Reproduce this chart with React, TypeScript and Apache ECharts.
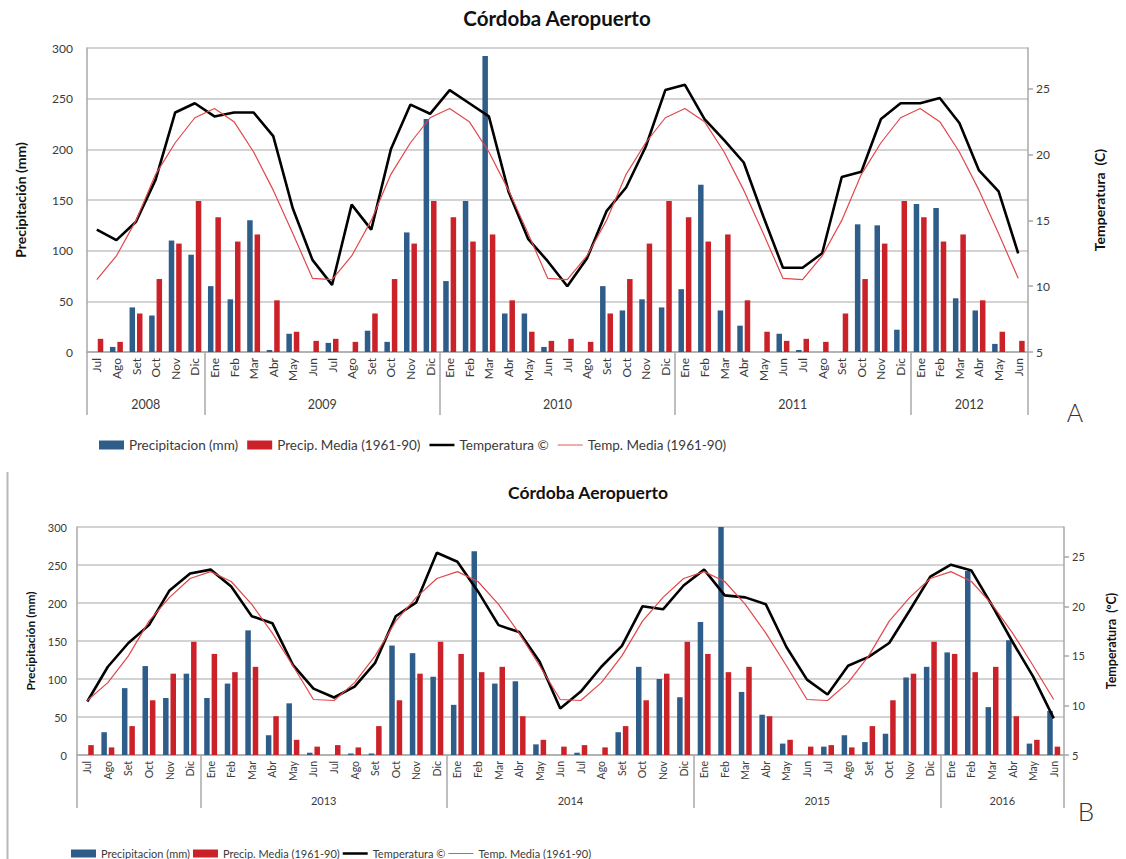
import React, { useEffect, useRef } from "react";
import * as echarts from "echarts";

// ---------- DATA ----------
const monthCycle = ["Jul", "Ago", "Set", "Oct", "Nov", "Dic", "Ene", "Feb", "Mar", "Abr", "May", "Jun"];

// Climatological normals 1961-90, by month (Jul..Jun)
const precipMediaNormal = [13, 10, 38, 72, 107, 149, 133, 109, 116, 51, 20, 11];
const tempMediaNormal = [10.5, 12.3, 15.0, 18.5, 20.9, 22.8, 23.5, 22.5, 20.2, 17.3, 14.0, 10.6];

// Panel A: Jul 2008 - Jun 2012
const yearLabelsA = ["2008", "2009", "2010", "2011", "2012"];
const yearSpansA = [6, 12, 12, 12, 6];
const precipA = [
  0, 5, 44, 36, 110, 96,
  65, 52, 130, 2, 18, 0, 9, 0, 21, 10, 118, 230,
  70, 149, 292, 38, 38, 5, 0, 0, 65, 41, 52, 44,
  62, 165, 41, 26, 0, 18, 2, 0, 0, 126, 125, 22,
  146, 142, 53, 41, 8, 0,
];
const tempA = [
  14.3, 13.5, 14.9, 18.1, 23.2, 23.9,
  22.9, 23.2, 23.2, 21.4, 15.9, 12.0, 10.1, 16.2, 14.3, 20.4, 23.8, 23.1,
  24.9, 23.9, 22.9, 17.2, 13.6, 11.9, 10.0, 12.1, 15.7, 17.5, 20.6, 24.9,
  25.3, 22.7, 21.1, 19.4, 15.3, 11.4, 11.4, 12.5, 18.3, 18.7, 22.7, 23.9,
  23.9, 24.3, 22.4, 18.8, 17.2, 12.5,
];

// Panel B: Jul 2012 - Jun 2016
const yearLabelsB = ["", "2013", "2014", "2015", "2016"];
const yearSpansB = [6, 12, 12, 12, 6];
const precipB = [
  0, 30, 88, 117, 75, 107,
  75, 94, 164, 26, 68, 3, 0, 2, 2, 144, 134, 103,
  66, 268, 94, 97, 14, 0, 3, 0, 30, 116, 100, 76,
  175, 310, 83, 53, 15, 0, 11, 26, 17, 28, 102, 116,
  135, 242, 63, 151, 15, 58,
];
const tempB = [
  10.4, 13.9, 16.3, 18.1, 21.6, 23.3,
  23.7, 22.0, 19.0, 18.3, 14.1, 11.7, 10.8, 11.9, 14.3, 19.0, 20.4, 25.4,
  24.5, 21.5, 18.1, 17.4, 14.4, 9.7, 11.4, 13.9, 16.0, 20.0, 19.7, 22.1,
  23.7, 21.1, 20.9, 20.2, 15.9, 12.6, 11.1, 14.0, 14.9, 16.3, 19.6, 23.0,
  24.2, 23.6, 20.1, 16.4, 12.9, 8.7,
];

const titleText = "Córdoba Aeropuerto";
const seriesNames = ["Precipitacion (mm)", "Precip. Media (1961-90)", "Temperatura ©", "Temp. Media (1961-90)"];

// ---------- STYLE ----------
const FONT = "Lato, 'Noto Sans', sans-serif";
const BLUE = "#2f5d8a";
const RED = "#cb2129";
const REDLINE = "#e2474a";
const GRID = "#c4c4c4";
const AXIS = "#a8a8a8";
const TXT = "#3a3a3a";

const legendItems = [
  { name: seriesNames[0], icon: "rect" },
  { name: seriesNames[1], icon: "rect" },
  { name: seriesNames[2], icon: "path://M0,0H30V3H0Z" },
  { name: seriesNames[3], icon: "path://M0,0H30V1.1H0Z" },
];

function monthsFor(spans: number[]) {
  const n = spans.reduce((a, b) => a + b, 0);
  const out: string[] = [];
  for (let i = 0; i < n; i++) out.push(monthCycle[i % 12]);
  return out;
}

function yearAxis(gridIndex: number, labels: string[], spans: number[], offset: number, fontSize: number, margin: number) {
  const total = spans.reduce((a, b) => a + b, 0);
  const data: string[] = new Array(total * 2 + 1).fill("");
  const bounds = new Set<number>();
  let acc = 0;
  bounds.add(0);
  spans.forEach((s, i) => {
    data[acc * 2 + s] = labels[i];
    acc += s;
    bounds.add(acc * 2);
  });
  return {
    type: "category",
    gridIndex,
    position: "bottom",
    offset,
    boundaryGap: false,
    data,
    silent: true,
    axisLine: { show: false },
    axisTick: {
      show: true,
      inside: true,
      length: offset,
      interval: (i: number) => bounds.has(i),
      lineStyle: { color: AXIS, width: 1.5 },
    },
    axisLabel: {
      inside: true,
      margin,
      interval: (i: number) => data[i] !== "",
      fontSize,
      fontFamily: FONT,
      color: TXT,
    },
    splitLine: { show: false },
  };
}

function monthAxis(gridIndex: number, spans: number[], fontSize: number) {
  return {
    type: "category",
    gridIndex,
    position: "bottom",
    data: monthsFor(spans),
    boundaryGap: true,
    axisLine: { show: true, lineStyle: { color: AXIS, width: 1.5 } },
    axisTick: { show: false },
    axisLabel: { rotate: 90, interval: 0, margin: 6, fontSize, fontFamily: FONT, color: TXT },
    splitLine: { show: false },
  };
}

function leftAxis(gridIndex: number, fontSize: number, nameSize: number, nameGap: number, margin: number) {
  return {
    type: "value",
    gridIndex,
    position: "left",
    min: 0,
    max: 300,
    interval: 50,
    name: "Precipitación (mm)",
    nameLocation: "middle",
    nameGap,
    nameTextStyle: { fontFamily: FONT, fontWeight: "bold", fontSize: nameSize, color: "#111" },
    axisLine: { show: true, lineStyle: { color: AXIS, width: 1.5 } },
    axisTick: { show: false },
    axisLabel: { fontSize, fontFamily: FONT, color: TXT, margin },
    splitLine: { show: true, lineStyle: { color: GRID, width: 1.5 } },
  };
}

function rightAxis(gridIndex: number, max: number, name: string, fontSize: number, nameSize: number, nameGap: number, margin: number) {
  return {
    type: "value",
    gridIndex,
    position: "right",
    min: 5,
    max,
    interval: 5,
    name,
    nameLocation: "middle",
    nameGap,
    nameTextStyle: { fontFamily: FONT, fontWeight: "bold", fontSize: nameSize, color: "#111" },
    axisLine: { show: true, lineStyle: { color: AXIS, width: 1.5 } },
    axisTick: { show: true, length: 5, lineStyle: { color: AXIS, width: 1.5 } },
    axisLabel: {
      fontSize,
      fontFamily: FONT,
      color: TXT,
      margin,
      showMaxLabel: false,
      formatter: (v: number) => (Math.abs(v % 5) < 1e-6 ? String(v) : ""),
    },
    splitLine: { show: false },
  };
}

function seriesFor(xIdx: number, yIdx: number, spans: number[], precip: number[], temp: number[]) {
  const months = monthsFor(spans);
  const pm = months.map((_, i) => precipMediaNormal[i % 12]);
  const tm = months.map((_, i) => tempMediaNormal[i % 12]);
  return [
    {
      name: seriesNames[0], type: "bar", xAxisIndex: xIdx, yAxisIndex: yIdx, data: precip,
      itemStyle: { color: BLUE }, barWidth: 5.5, barGap: "35%", clip: true,
    },
    {
      name: seriesNames[1], type: "bar", xAxisIndex: xIdx, yAxisIndex: yIdx, data: pm,
      itemStyle: { color: RED }, barWidth: 5.5, barGap: "35%", clip: true,
    },
    {
      name: seriesNames[2], type: "line", xAxisIndex: xIdx, yAxisIndex: yIdx + 1, data: temp,
      symbol: "none", color: "#000", lineStyle: { color: "#000", width: 2.6 },
    },
    {
      name: seriesNames[3], type: "line", xAxisIndex: xIdx, yAxisIndex: yIdx + 1, data: tm,
      symbol: "none", color: REDLINE, lineStyle: { color: REDLINE, width: 1.2 },
    },
  ];
}

export default function App() {
  const ref = useRef<HTMLDivElement>(null);
  useEffect(() => {
    if (!ref.current) return;
    const chart = echarts.init(ref.current, undefined, { renderer: "svg" });
    const option: any = {
      animation: false,
      backgroundColor: "#fff",
      grid: [
        { left: 87, top: 48, width: 941, height: 304 },
        { left: 77, top: 527, width: 993, height: 228 },
      ],
      xAxis: [
        monthAxis(0, yearSpansA, 12),
        yearAxis(0, yearLabelsA, yearSpansA, 63, 12.5, 4),
        monthAxis(1, yearSpansB, 10.5),
        yearAxis(1, yearLabelsB, yearSpansB, 53, 11, 2),
      ],
      yAxis: [
        leftAxis(0, 12, 14, 60, 14),
        rightAxis(0, 28.1, "Temperatura  (C)", 12, 14, 64, 8),
        leftAxis(1, 11, 12, 37, 10),
        rightAxis(1, 28, "Temperatura  (ºC)", 11, 12.5, 41, 8),
      ],
      legend: [
        {
          left: 94, top: 433, data: legendItems, itemWidth: 25, itemHeight: 9, itemGap: 9,
          symbolKeepAspect: true,
          textStyle: { fontFamily: FONT, fontSize: 13.5, color: TXT }, selectedMode: false,
        },
        {
          left: 66, top: 843, data: legendItems, itemWidth: 25, itemHeight: 8, itemGap: 3,
          symbolKeepAspect: true,
          textStyle: { fontFamily: FONT, fontSize: 11, color: TXT }, selectedMode: false,
        },
      ],
      graphic: [
        {
          type: "text", x: 557, y: 18,
          style: { text: titleText, textAlign: "center", textVerticalAlign: "middle", font: `bold 20.5px ${FONT}`, fill: "#111" },
        },
        {
          type: "text", x: 588, y: 492,
          style: { text: titleText, textAlign: "center", textVerticalAlign: "middle", font: `bold 17.5px ${FONT}`, fill: "#111" },
        },
        {
          type: "text", x: 1075, y: 412,
          style: { text: "A", textAlign: "center", textVerticalAlign: "middle", font: `300 25px ${FONT}`, fill: "#333" },
        },
        {
          type: "text", x: 1086, y: 811,
          style: { text: "B", textAlign: "center", textVerticalAlign: "middle", font: `300 26px ${FONT}`, fill: "#333" },
        },
        {
          type: "line", shape: { x1: 7.5, y1: 472, x2: 7.5, y2: 859 },
          style: { stroke: "#b8b8b8", lineWidth: 2 },
        },
      ],
      series: [
        ...seriesFor(0, 0, yearSpansA, precipA, tempA),
        ...seriesFor(2, 2, yearSpansB, precipB, tempB),
      ],
    };
    chart.setOption(option);
    return () => chart.dispose();
  }, []);
  return (
    <div
      ref={ref}
      style={{ position: "fixed", left: 0, top: 0, width: 1126, height: 859, background: "#fff" }}
    />
  );
}
